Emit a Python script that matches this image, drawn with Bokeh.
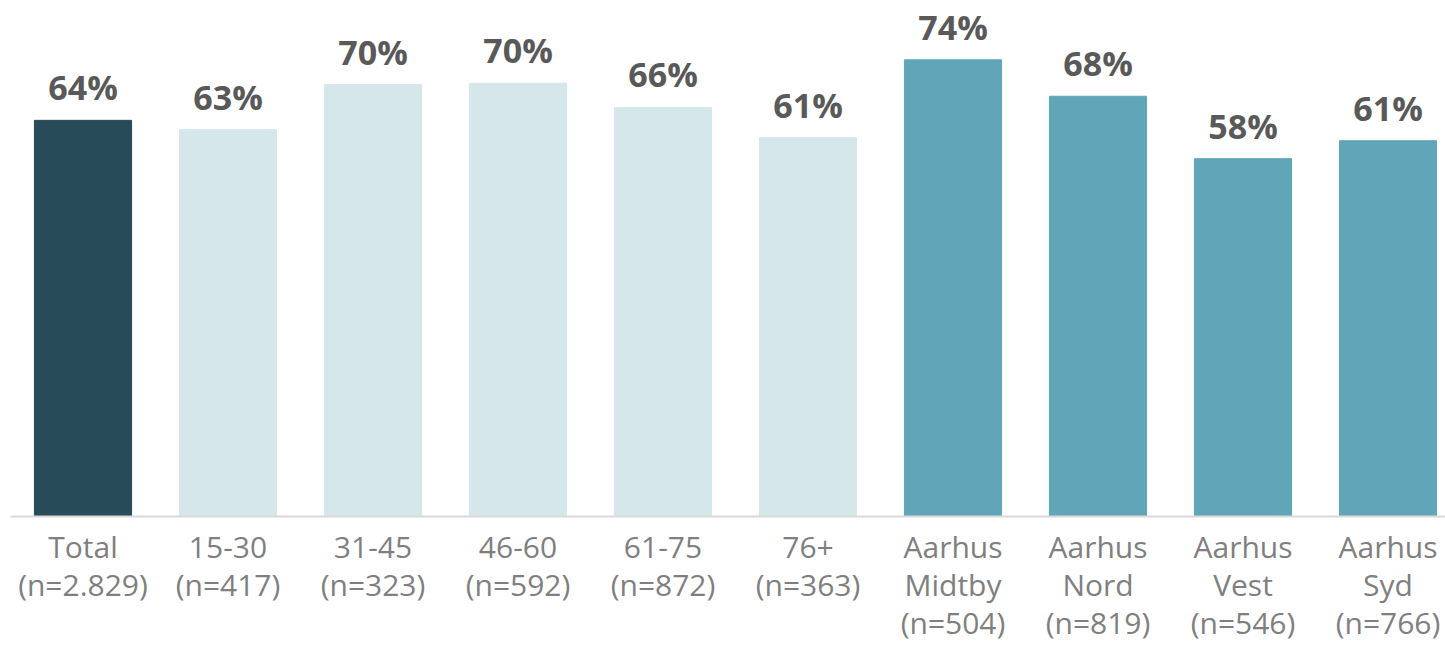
from bokeh.plotting import figure
from bokeh.models import Range1d, FixedTicker, ColumnDataSource
from bokeh.core.properties import value
from bokeh.embed import file_html
from bokeh.resources import INLINE

# ---- data ----
tick_labels = ["Total\n(n=2.829)", "15-30\n(n=417)", "31-45\n(n=323)", "46-60\n(n=592)",
               "61-75\n(n=872)", "76+\n(n=363)", "Aarhus\nMidtby\n(n=504)",
               "Aarhus\nNord\n(n=819)", "Aarhus\nVest\n(n=546)", "Aarhus\nSyd\n(n=766)"]
values = [64.1, 62.6, 69.9, 70.1, 66.2, 61.3, 73.9, 68.0, 57.9, 60.8]
groups = ["total", "age", "age", "age", "age", "age", "area", "area", "area", "area"]
palette = {"total": "#274B57", "age": "#D5E7EB", "area": "#61A5B8"}

xs = list(range(len(values)))
src = ColumnDataSource(dict(
    x=xs,
    v=values,
    color=[palette[g] for g in groups],
    label=[f"{v:.0f}%" for v in values],
))

W, H = 1445, 645
p = figure(width=W, height=H, output_backend="svg", toolbar_location=None,
           x_range=Range1d(-0.5, -0.5 + 1435 / 145), y_range=Range1d(0, 82.2),
           min_border_left=10, min_border_right=0, min_border_top=8, min_border_bottom=129)
p.outline_line_color = None
p.background_fill_color = "white"
p.border_fill_color = "white"
p.grid.visible = False
p.yaxis.visible = False

p.vbar(x="x", top="v", width=0.67, color="color", source=src)
p.text(x="x", y="v", text="label", source=src, text_align="center", text_baseline="alphabetic",
       y_offset=-33, text_font=value("Open Sans"), text_font_style="bold",
       text_font_size="34px", text_color="#595959")

ax = p.xaxis[0]
ax.ticker = FixedTicker(ticks=xs)
ax.major_label_overrides = {i: t for i, t in zip(xs, tick_labels)}
ax.axis_line_color = "#D9D9D9"
ax.axis_line_width = 2
ax.major_tick_line_color = None
ax.minor_tick_line_color = None
ax.major_label_standoff = 3
ax.major_label_text_font = "Open Sans"
ax.major_label_text_font_size = "30px"
ax.major_label_text_color = "#7F7F7F"
ax.major_label_text_line_height = 0.93

open("out.html", "w").write(file_html(p, INLINE))
